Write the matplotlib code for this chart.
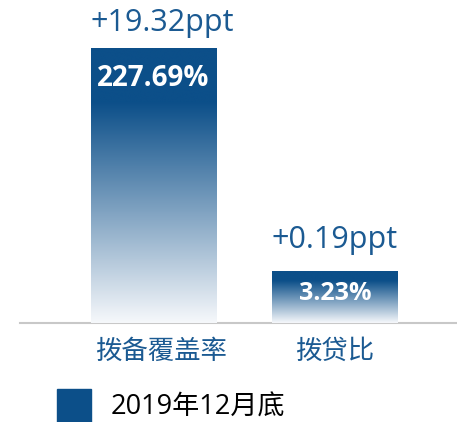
import matplotlib
matplotlib.use("Agg")
import matplotlib.pyplot as plt
import numpy as np
from matplotlib.colors import LinearSegmentedColormap
from matplotlib.patches import Rectangle

plt.rcParams['font.family'] = ['Open Sans', 'Noto Sans CJK SC', 'DejaVu Sans']

# data
categories = ['拨备覆盖率', '拨贷比']
values = [227.69, 3.23]          # %
changes = ['+19.32ppt', '+0.19ppt']
legend_label = '2019年12月底'

dark = '#0c4f89'
text_blue = '#1b5a92'
grad = LinearSegmentedColormap.from_list(
    'g', [(0.0, '#f6f8fb'), (0.8, dark), (1.0, dark)])

W, H = 457, 422
fig = plt.figure(figsize=(W / 100, H / 100), dpi=100)
# baseline sits at y=323 px, axis line starts at x=20 px
ax = fig.add_axes([20 / W, 1 - 323 / H, 1 - 20 / W, 323 / H])
ax.set_yscale('log')
ax.set_ylim(1.197, 569)
x = np.arange(len(categories))
spacing = 181.5
ax.set_xlim(-(153.5 - 20) / spacing, (457 - 153.5) / spacing)

bars = ax.bar(x, values, width=0.69, color='none', edgecolor='none')

fig.canvas.draw()
inv = ax.transAxes.inverted()
for b, v, c, lab in zip(bars, values, changes, categories):
    big = v > 10
    x0, x1 = b.get_x(), b.get_x() + b.get_width()
    (ax0, top), = inv.transform(ax.transData.transform([(x0, v)]))
    (ax1, _), = inv.transform(ax.transData.transform([(x1, v)]))
    g = np.linspace(0, 1, 256).reshape(-1, 1)
    im = ax.imshow(g, cmap=grad, origin='lower', aspect='auto',
                   extent=[ax0, ax1, 0, top], transform=ax.transAxes,
                   interpolation='bicubic', zorder=2)
    im.set_clip_path(b)
    xc = (x0 + x1) / 2
    ax.annotate(f'{v:.2f}%', (xc, v), xytext=(0, -22 if big else -16),
                textcoords='offset points', ha='center', va='center',
                color='white', fontsize=20 if big else 18,
                fontweight='bold', zorder=3)
    ax.annotate(c, (xc + (0.05 if big else 0), v), xytext=(0, 18 if big else 22),
                textcoords='offset points', ha='center', va='center',
                color=text_blue, fontsize=22, zorder=3)
    ax.annotate(lab, (xc + (0.04 if big else 0), 1.197), xytext=(0, -21),
                textcoords='offset points', ha='center', va='center',
                color=text_blue, fontsize=19, zorder=3, annotation_clip=False)

ax.set_xticks([])
ax.set_yticks([])
ax.minorticks_off()
for s in ['top', 'right', 'left']:
    ax.spines[s].set_visible(False)
ax.spines['bottom'].set_color('#c8c8c8')
ax.spines['bottom'].set_linewidth(1.5)
ax.spines['bottom'].set_zorder(1)
ax.patch.set_alpha(0)

# legend
fig.patches.append(Rectangle((57 / W, 0), 34 / W, 33 / H, color=dark,
                             transform=fig.transFigure))
fig.text(111 / W, 1 - 408 / H, legend_label, ha='left', va='center',
         fontsize=19.5, color='black')

fig.savefig('out.png', dpi=100)
